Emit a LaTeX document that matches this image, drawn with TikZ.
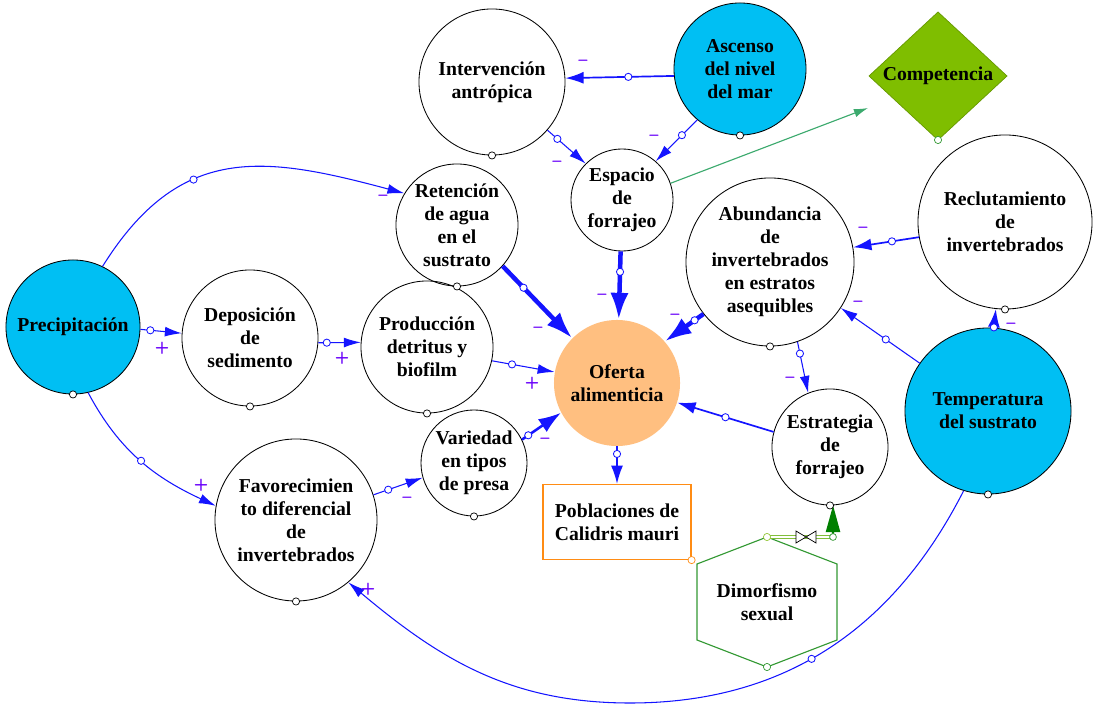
\documentclass[tikz,border=0pt]{standalone}
\usepackage{fontspec}
\setmainfont{Liberation Serif}
\usetikzlibrary{arrows.meta}
\definecolor{cyanfill}{RGB}{0,191,243}
\definecolor{oferta}{RGB}{255,191,128}
\definecolor{compfill}{RGB}{127,190,0}
\definecolor{sgn}{RGB}{105,0,250}
\definecolor{lnk}{RGB}{20,20,255}
\definecolor{hexgreen}{RGB}{51,153,51}
\definecolor{pipegreen}{RGB}{150,200,60}
\definecolor{arrgreen}{RGB}{0,128,0}
\definecolor{seag}{RGB}{60,170,110}
\definecolor{pobor}{RGB}{255,140,20}
\begin{document}
\begin{tikzpicture}[x=0.025cm, y=-0.025cm,
  circ/.style={circle, draw=black, line width=0.6pt, inner sep=0pt, minimum size=#1*0.05cm},
  txt/.style={align=center, font=\fontsize{14}{16.3}\selectfont\bfseries, inner sep=0pt},
  anch/.style={circle, draw=black, fill=white, inner sep=0pt, minimum size=0.18cm, line width=0.5pt},
  mk/.style={circle, draw=lnk, fill=white, inner sep=0pt, minimum size=0.18cm, line width=0.6pt},
  thinlink/.style={draw=lnk, line width=0.75pt, -{Latex[length=12pt, width=7pt]}},
  medlink/.style={draw=lnk, line width=1.2pt, -{Latex[length=13pt, width=8.5pt]}},
  mthlink/.style={draw=lnk, line width=1.8pt, -{Latex[length=16pt, width=11pt]}},
  thicklink/.style={draw=lnk, line width=3.2pt, -{Latex[length=19pt, width=13pt]}},
  sg/.style={text=sgn, font=\sffamily\bfseries\fontsize{12}{12}\selectfont, inner sep=0pt}
]
\fill[white] (0,0) rectangle (1097,707);
\useasboundingbox (0,0) rectangle (1097,707);

% ---- nodes
\node[circ=73] (int) at (492,82) {};
\node[circ=66, fill=cyanfill] (asc) at (740,69) {};
\node[circ=51] (esp) at (622,200) {};
\node[circ=61] (ret) at (457,225) {};
\node[circ=67, fill=cyanfill] (pre) at (73,327) {};
\node[circ=68] (dep) at (250,338) {};
\node[circ=66] (pro) at (427,347) {};
\node[circ=63, draw=none, fill=oferta] (ofe) at (617,383) {};
\node[circ=53] (var) at (474,463) {};
\node[circ=81] (fav) at (296,520) {};
\node[circ=84] (abu) at (770,262) {};
\node[circ=87] (rec) at (1005,222) {};
\node[circ=83, fill=cyanfill] (tem) at (988,411) {};
\node[circ=58] (est) at (830,447) {};
\node[rectangle, draw=pobor, line width=0.8pt, inner sep=0pt, minimum width=3.7cm, minimum height=1.875cm] (pob) at (617,522) {};

% Competencia diamond
\coordinate (compc) at (938,76);
\filldraw[fill=compfill, draw=compfill!80!black, line width=0.5pt] (compc) ++(-69,0) -- ++(69,-64) -- ++(69,64) -- ++(-69,64) -- cycle;
\coordinate (compin) at (868,108);

% Dimorfismo hexagon
\coordinate (dimc) at (767,602);
\draw[hexgreen, line width=0.8pt] (dimc) ++(0,-65) -- ++(70,27) -- ++(0,76) -- ++(-70,27) -- ++(-70,-27) -- ++(0,-76) -- cycle;
\coordinate (dimtop) at (767,537);
\coordinate (dimbot) at (767,667);
\coordinate (flowend) at (833,537);
\coordinate (valve) at (806,537);
\coordinate (tb) at (630,703);

% ---- texts
\node[txt] (int-t) at (int) {Intervención\\antrópica};
\node[txt] (asc-t) at (asc) {Ascenso\\del nivel\\del mar};
\node[txt] (comp) at (compc) {Competencia};
\node[txt] (esp-t) at (esp) {Espacio\\de\\forrajeo};
\node[txt] (ret-t) at (ret) {Retención\\de agua\\en el\\sustrato};
\node[txt] (pre-t) at (pre) {Precipitación};
\node[txt] (dep-t) at (dep) {Deposición\\de\\sedimento};
\node[txt] (pro-t) at (pro) {Producción\\detritus y\\biofilm};
\node[txt] (ofe-t) at (ofe) {Oferta\\alimenticia};
\node[txt] (var-t) at (var) {Variedad\\en tipos\\de presa};
\node[txt] (fav-t) at (fav) {Favorecimien\\to diferencial\\de\\invertebrados};
\node[txt] (abu-t) at (abu) {Abundancia\\de\\invertebrados\\en estratos\\asequibles};
\node[txt] (rec-t) at (rec) {Reclutamiento\\de\\invertebrados};
\node[txt] (tem-t) at (tem) {Temperatura\\del sustrato};
\node[txt] (est-t) at (est) {Estrategia\\de\\forrajeo};
\node[txt] (pob-t) at (pob) {Poblaciones de\\Calidris mauri};
\node[txt] (dim) at (dimc) {Dimorfismo\\sexual};

% ---- connectors
\draw[medlink] (asc.186) -- node[mk,pos=0.42] (m1) {} (int.3);
\draw[thinlink] (int.-41) -- node[mk,pos=0.26] (m2) {} (esp.135);
\draw[thinlink] (asc.230) -- node[mk,pos=0.37] (m3) {} (esp.49);
\draw[seag, line width=0.8pt, -{Latex[length=10pt,width=6pt]}] (esp.19) -- (compin);
\draw[thicklink] (esp) -- node[mk,pos=0.3] (m5) {} (ofe);
\draw[thicklink] (ret.-42) -- node[mk,pos=0.3] (m6) {} (ofe.135);
\draw[thinlink] (pre.64) to[out=58, in=165, looseness=1.2] node[mk,pos=0.37] (m7) {} (ret.149);
\draw[thinlink] (pre.-2) -- node[mk,pos=0.24] (m8) {} (dep.176);
\draw[thinlink] (dep.-4) -- node[mk,pos=0.2] (m9) {} (pro.176);
\draw[thinlink] (pro.-12) -- node[mk,pos=0.32] (m10) {} (ofe.170);
\draw[mthlink] (var.26) -- node[mk,pos=0.16] (m11) {} (ofe.-152);
\draw[thinlink] (fav.18) -- node[mk,pos=0.3] (m12) {} (var.196);
\draw[thinlink] (pre.-77) to[out=-62, in=155] node[mk,pos=0.5] (m13) {} (fav.170);
\draw[thinlink] (tem.-107) to[out=-117,in=0] node[mk,pos=0.55] (m14) {} (tb) to[out=180,in=-40] (fav.-50);
\draw[medlink] (ofe.-90) -- node[mk,pos=0.2] (m15) {} (pob.north);
\draw[medlink] (est.165) -- node[mk,pos=0.5] (m16) {} (ofe.-18);
\draw[thicklink] (abu.218) -- node[mk,pos=0.23] (m17) {} (ofe.41);
\draw[thinlink] (abu.-71) -- node[mk,pos=0.23] (m18) {} (est.112);
\draw[medlink] (rec.190) -- node[mk,pos=0.41] (m19) {} (abu.10);
\draw[thinlink] (tem.145) -- node[mk,pos=0.43] (m20) {} (abu.-33);
\draw[medlink] (tem.86) -- node[mk,pos=0.02] (m21) {} (rec.-96);

% Dimorfismo -> Estrategia flow
\draw[pipegreen!80!hexgreen, double=white, double distance=2pt, line width=0.7pt] (dimtop) -- (flowend);
\draw[black, fill=white, line width=0.5pt] (valve) ++(-10,-6) -- ++(20,12) -- ++(0,-12) -- ++(-20,12) -- cycle;
\draw[arrgreen, line width=1.5pt, -{Triangle[length=19pt,width=10pt]}] (flowend) -- (est.-87);
\node[circle, draw=hexgreen, fill=white, inner sep=0pt, minimum size=0.17cm, line width=0.5pt] (fe-m) at (flowend) {};

% ---- anchor markers
\foreach \n in {int,asc,ret,pre,dep,pro,var,fav,abu,rec,tem,est}{
  \node[anch] (a-\n) at (\n.south) {};
}
\node[anch, draw=hexgreen] (a-comp) at (938,140) {};
\node[anch, draw=pobor] (a-pob) at (pob.south east) {};
\node[anch, draw=hexgreen] (a-dimb) at (dimbot) {};
\node[anch, draw=pipegreen] (a-dimt) at (dimtop) {};

% ---- polarity signs
\node[sg] (s1) at (583,63) {--};
\node[sg] (s2) at (557,164) {--};
\node[sg] (s3) at (654,138) {--};
\node[sg] (s5) at (602,297) {--};
\node[sg] (s6) at (538,330) {--};
\node[sg] (s7) at (383,198) {--};
\node[sg] (s8) at (162,348) {+};
\node[sg] (s9) at (342,358) {+};
\node[sg] (s10) at (532,383) {+};
\node[sg] (s11) at (545,441) {--};
\node[sg] (s12) at (407,500) {--};
\node[sg] (s13) at (201,485) {+};
\node[sg] (s14) at (368,589) {+};
\node[sg] (s17) at (675,317) {--};
\node[sg] (s18) at (790,380) {--};
\node[sg] (s19) at (863,230) {--};
\node[sg] (s20) at (858,304) {--};
\node[sg] (s21) at (1011,326) {--};
\end{tikzpicture}
\end{document}
